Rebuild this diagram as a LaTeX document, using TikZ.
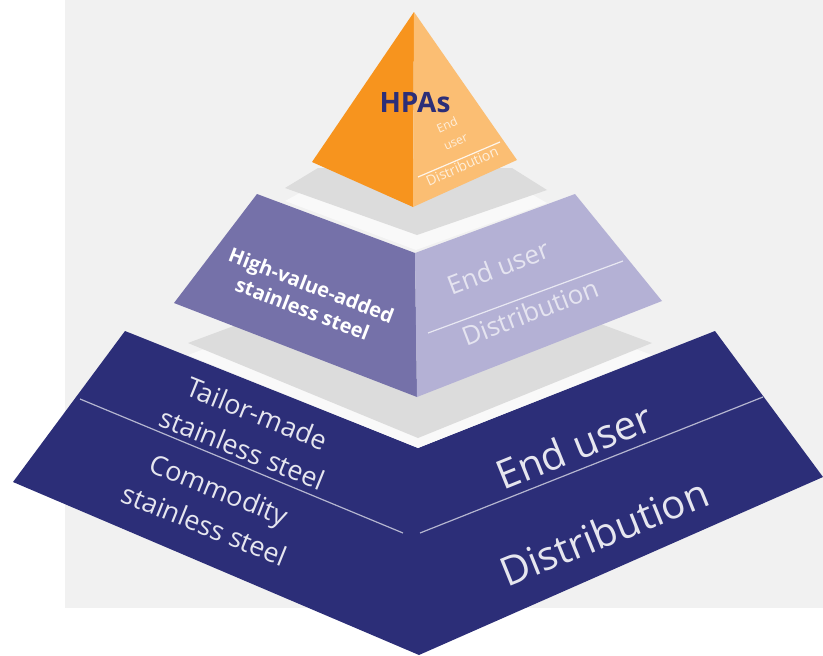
\documentclass[tikz,border=0pt]{standalone}
\usepackage{fontspec}
\setmainfont{Open Sans}
\usepackage{tikz}
\definecolor{navy}{HTML}{2C2E78}
\definecolor{violetL}{HTML}{7571A9}
\definecolor{violetR}{HTML}{B4B1D5}
\definecolor{amberL}{HTML}{F7941E}
\definecolor{amberR}{HTML}{FBBE73}
\definecolor{floorgray}{HTML}{DCDCDC}
\definecolor{backdrop}{HTML}{F1F1F1}
\tikzset{
  tiertext/.style={inner sep=0pt,align=center,text=#1},
  tiertext/.default=white,
  divider/.style={draw=#1,line width=1.2pt},
}

\begin{document}
\begin{tikzpicture}[x=1pt,y=-1pt]
\useasboundingbox (0,0) rectangle (823,656);
\fill[backdrop] (65,0) rectangle (823,608);
% base
\fill[navy] (125,331) -- (418,448) -- (715,331) -- (823,477) -- (419,655) -- (13,482) -- cycle;
\fill[white!60!backdrop] (188,355) -- (250,332) -- (590,332) -- (652,355) -- (418,448) -- cycle;
\fill[floorgray] (188,343) -- (250,320) -- (590,320) -- (652,343) -- (418,438) -- cycle;
% middle
\fill[violetL] (257,194) -- (415,253) -- (417,397) -- (174,303) -- cycle;
\fill[violetR] (415,253) -- (575,194) -- (662,301) -- (417,397) -- cycle;
\fill[white!60!backdrop] (285,201) -- (318,183) -- (512,183) -- (547,203) -- (416,250) -- cycle;
\fill[floorgray] (285,188) -- (318,168) -- (512,168) -- (547,190) -- (417,235) -- cycle;
% top
\fill[amberL] (414,12) -- (413,207) -- (312,162) -- cycle;
\fill[amberR] (414,12) -- (517,160) -- (413,207) -- cycle;

\draw[divider=white!85!amberR] (418,177) -- (500,142);
\draw[divider=white!70!violetR] (428,333) -- (623,261);
\draw[divider=white!65!navy] (80,399) -- (403,533);
\draw[divider=white!65!navy] (420,533) -- (763,397);

\node[tiertext=navy,font=\fontsize{28}{30}\bfseries] (hpas) at (415,103) {HPAs};
\node[tiertext=white!75!amberR,font=\fontsize{12}{13}\selectfont,rotate=24] (topuser1) at (447,125) {End};
\node[tiertext=white!75!amberR,font=\fontsize{12}{13}\selectfont,rotate=24] (topuser2) at (456,143) {user};
\node[tiertext=white!75!amberR,font=\fontsize{14}{15}\selectfont,rotate=24] (topdist) at (462,166) {Distribution};

\node[tiertext,font=\fontsize{20}{25}\bfseries,rotate=-21] (midgrade) at (307,297) {High-value-added\\stainless steel};
\node[tiertext=white!65!violetR,font=\fontsize{26}{28}\selectfont,rotate=21] (miduser) at (498,267) {End user};
\node[tiertext=white!65!violetR,font=\fontsize{26}{28}\selectfont,rotate=21] (middist) at (530,312) {Distribution};

\node[tiertext=white!88!navy,font=\fontsize{27}{38}\selectfont,rotate=-22] (tailor) at (250,431) {Tailor-made\\stainless steel};
\node[tiertext=white!88!navy,font=\fontsize{27}{38}\selectfont,rotate=-22] (commodity) at (212,507) {Commodity\\stainless steel};
\node[tiertext=white!88!navy,font=\fontsize{40}{42}\selectfont,rotate=22] (baseuser) at (574,446) {End user};
\node[tiertext=white!88!navy,font=\fontsize{40}{42}\selectfont,rotate=22] (basedist) at (604,532) {Distribution};
\end{tikzpicture}
\end{document}
